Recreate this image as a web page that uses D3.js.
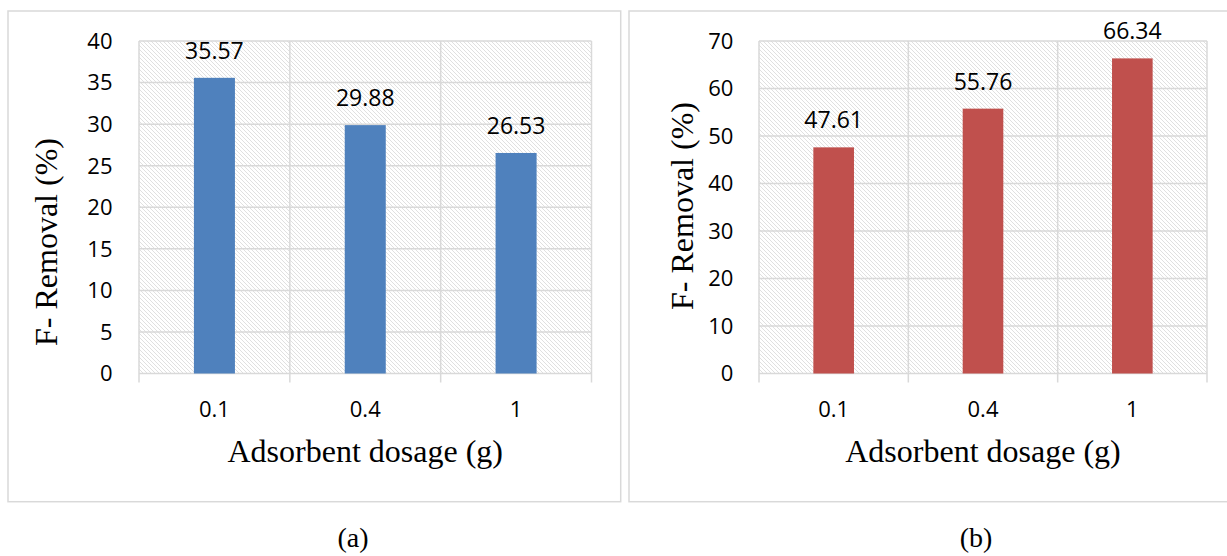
<!DOCTYPE html>
<html>
<head>
<meta charset="utf-8">
<script src="https://cdn.jsdelivr.net/npm/d3@7"></script>
<style>
  body { margin: 0; background: #fff; }
</style>
</head>
<body>
<div id="chart"></div>
<script>
// data
var dosages = ["0.1", "0.4", "1"];
var removalA = [35.57, 29.88, 26.53];
var removalB = [47.61, 55.76, 66.34];
var ticksA = [0, 5, 10, 15, 20, 25, 30, 35, 40];
var ticksB = [0, 10, 20, 30, 40, 50, 60, 70];

var W = 1227, H = 556;
var gridColor = "#d9d9d9";
var tickFont = "'Open Sans', 'Noto Sans', sans-serif";
var serif = "'Liberation Serif', 'Times New Roman', serif";

var svg = d3.select("#chart").append("svg")
    .attr("width", W)
    .attr("height", H);

// hatch fill for the plot area
var pat = svg.append("defs").append("pattern")
    .attr("id", "hatch")
    .attr("patternUnits", "userSpaceOnUse")
    .attr("width", 4)
    .attr("height", 4);
pat.append("rect").attr("width", 4).attr("height", 4).attr("fill", "#fff");
pat.append("path")
    .attr("d", "M-1,-1 L5,5 M-1,3 L1,5 M3,-1 L5,1")
    .attr("stroke", "#e0e0e0")
    .attr("stroke-width", 1);

function buildPanel(opt) {
    // outer frame
    svg.append("rect")
        .attr("x", opt.frame[0]).attr("y", opt.frame[1])
        .attr("width", opt.frame[2]).attr("height", opt.frame[3])
        .attr("fill", "none")
        .attr("stroke", gridColor)
        .attr("stroke-width", 1.5);

    var g = svg.append("g")
        .attr("transform", "translate(" + opt.left + "," + opt.top + ")");

    var w = opt.right - opt.left, h = opt.bottom - opt.top;

    var x = d3.scaleBand()
        .domain(dosages)
        .range([0, w]);
    var y = d3.scaleLinear()
        .domain([0, d3.max(opt.ticks)])
        .range([h, 0]);

    g.append("rect")
        .attr("width", w).attr("height", h)
        .attr("fill", "url(#hatch)");

    // horizontal gridlines
    g.append("g").selectAll("line")
        .data(opt.ticks)
        .enter().append("line")
        .attr("x1", 0).attr("x2", w)
        .attr("y1", d => y(d)).attr("y2", d => y(d))
        .attr("stroke", gridColor)
        .attr("stroke-width", 1.5);

    // vertical gridlines at category edges, running past the axis as tick marks
    var edges = dosages.map(d => x(d)).concat([w]);
    g.append("g").selectAll("line")
        .data(edges)
        .enter().append("line")
        .attr("x1", d => d).attr("x2", d => d)
        .attr("y1", 0).attr("y2", h + 9)
        .attr("stroke", gridColor)
        .attr("stroke-width", 1.5);

    // y tick labels
    g.append("g").selectAll("text")
        .data(opt.ticks)
        .enter().append("text")
        .attr("x", -opt.labelGap)
        .attr("y", d => y(d))
        .attr("dy", "0.36em")
        .attr("text-anchor", "end")
        .attr("font-family", tickFont)
        .attr("font-size", 22)
        .attr("fill", "#000")
        .text(d => d);

    // bars
    var bw = x.bandwidth() * 0.272;
    g.append("g").selectAll("rect")
        .data(opt.values)
        .enter().append("rect")
        .attr("x", (d, i) => x(dosages[i]) + x.bandwidth() / 2 - bw / 2)
        .attr("y", d => y(d))
        .attr("width", bw)
        .attr("height", d => h - y(d))
        .attr("fill", opt.color);

    // value labels
    g.append("g").selectAll("text")
        .data(opt.values)
        .enter().append("text")
        .attr("x", (d, i) => x(dosages[i]) + x.bandwidth() / 2)
        .attr("y", d => y(d) - 19)
        .attr("text-anchor", "middle")
        .attr("font-family", tickFont)
        .attr("font-size", 23)
        .attr("fill", "#000")
        .text(d => d.toFixed(2));

    // x tick labels
    g.append("g").selectAll("text")
        .data(dosages)
        .enter().append("text")
        .attr("x", d => x(d) + x.bandwidth() / 2)
        .attr("y", h + 43)
        .attr("text-anchor", "middle")
        .attr("font-family", tickFont)
        .attr("font-size", 22)
        .attr("fill", "#000")
        .text(d => d);

    // axis titles
    g.append("text")
        .attr("x", w / 2)
        .attr("y", h + 88)
        .attr("text-anchor", "middle")
        .attr("font-family", serif)
        .attr("font-size", 32)
        .attr("fill", "#000")
        .text("Adsorbent dosage (g)");

    svg.append("text")
        .attr("transform", "translate(" + opt.ytitle[0] + "," + opt.ytitle[1] + ") rotate(-90)")
        .attr("text-anchor", "middle")
        .attr("font-family", serif)
        .attr("font-size", 32)
        .attr("fill", "#000")
        .text("F- Removal (%)");

    // panel caption
    svg.append("text")
        .attr("x", opt.caption[0])
        .attr("y", opt.caption[1])
        .attr("text-anchor", "middle")
        .attr("font-family", serif)
        .attr("font-size", 28)
        .attr("fill", "#000")
        .text(opt.label);
}

buildPanel({
    frame: [8, 11, 612.7, 490.7],
    left: 139, right: 591.5, top: 41, bottom: 373.5,
    ticks: ticksA, values: removalA, color: "#4f81bd",
    labelGap: 26.5,
    ytitle: [57, 242],
    caption: [353, 547],
    label: "(a)"
});

buildPanel({
    frame: [629, 11, 610, 490.7],
    left: 759, right: 1207, top: 41, bottom: 373.5,
    ticks: ticksB, values: removalB, color: "#c0504d",
    labelGap: 25.7,
    ytitle: [693, 206],
    caption: [976, 547],
    label: "(b)"
});
</script>
</body>
</html>
